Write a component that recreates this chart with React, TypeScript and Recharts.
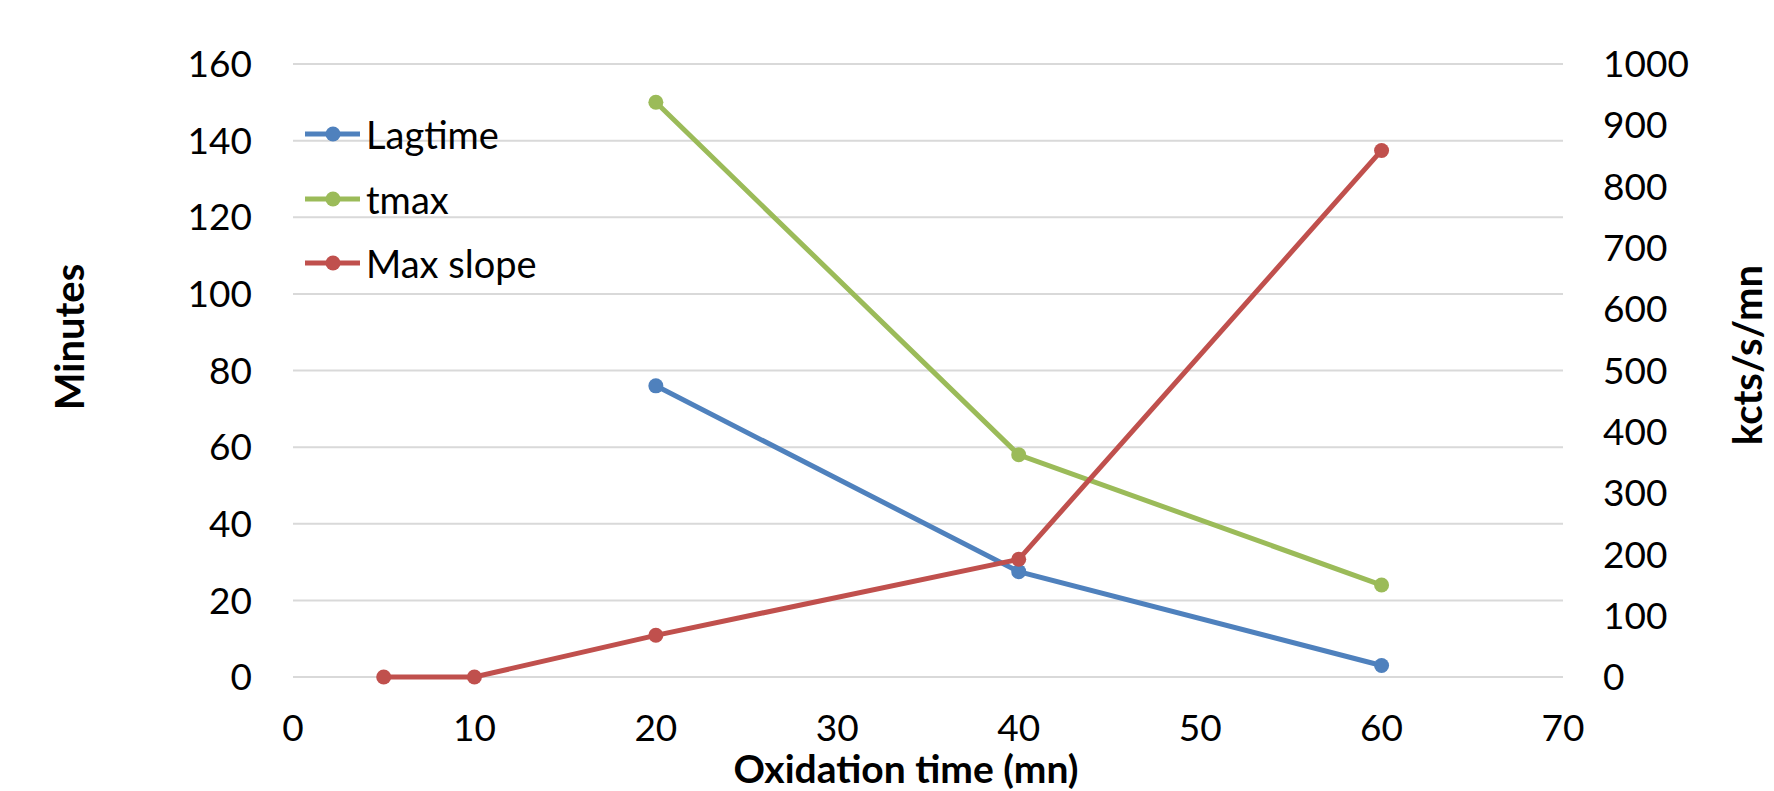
import { LineChart, Line, XAxis, YAxis, CartesianGrid } from 'recharts';

// oxidation time (mn) on the x axis
const oxidationTimes = [5, 10, 20, 40, 60];
// left axis, minutes
const lagtime = [null, null, 76, 27.5, 3];
const tmax = [null, null, 150, 58, 24];
// right axis, kcts/s/mn
const maxSlope = [0, 0, 68, 192, 859];

const xTicks = [0, 10, 20, 30, 40, 50, 60, 70];
const leftTicks = [0, 20, 40, 60, 80, 100, 120, 140, 160];
const rightTicks = [0, 100, 200, 300, 400, 500, 600, 700, 800, 900, 1000];

const data = oxidationTimes.map((t, i) => ({
  t,
  lagtime: lagtime[i],
  tmax: tmax[i],
  maxSlope: maxSlope[i],
}));

const FONT = "Lato, 'Open Sans', sans-serif";
const tickStyle = { fontSize: 37, fill: '#000', fontFamily: FONT };

const series = [
  { key: 'lagtime', name: 'Lagtime', color: '#4F81BD', axis: 'left' },
  { key: 'tmax', name: 'tmax', color: '#9BBB59', axis: 'left' },
  { key: 'maxSlope', name: 'Max slope', color: '#C0504D', axis: 'right' },
];

function LegendBox() {
  const rows = [134, 199, 263];
  return (
    <div style={{ position: 'absolute', left: 0, top: 0, pointerEvents: 'none' }}>
      {series.map((s, i) => (
        <div
          key={s.key}
          style={{ position: 'absolute', left: 305, top: rows[i] - 25, height: 50, display: 'flex', alignItems: 'center', whiteSpace: 'nowrap' }}
        >
          <svg width={56} height={20}>
            <line x1={0} y1={10} x2={55} y2={10} stroke={s.color} strokeWidth={5} />
            <circle cx={28} cy={10} r={7.5} fill={s.color} />
          </svg>
          <span style={{ fontFamily: FONT, fontSize: 38, color: '#000', marginLeft: 5 }}>{s.name}</span>
        </div>
      ))}
    </div>
  );
}

export default function App() {
  return (
    <div style={{ position: 'absolute', left: 0, top: 0, width: 1774, height: 791, background: '#fff' }}>
      <LineChart width={1774} height={791} data={data} margin={{ top: 64, right: 0, bottom: 0, left: 0 }}>
        <CartesianGrid yAxisId="left" vertical={false} stroke="#D9D9D9" strokeWidth={2} />
        <XAxis
          dataKey="t"
          type="number"
          domain={[0, 70]}
          ticks={xTicks}
          height={114}
          axisLine={false}
          tickLine={false}
          tickSize={0}
          tickMargin={38}
          tick={tickStyle}
          interval={0}
        />
        <YAxis
          yAxisId="left"
          domain={[0, 160]}
          ticks={leftTicks}
          width={293}
          axisLine={false}
          tickLine={false}
          tickSize={0}
          tickMargin={41}
          tick={tickStyle}
          interval={0}
        />
        <YAxis
          yAxisId="right"
          orientation="right"
          domain={[0, 1000]}
          ticks={rightTicks}
          width={211}
          axisLine={false}
          tickLine={false}
          tickSize={0}
          tickMargin={40}
          tick={{ ...tickStyle, textAnchor: 'start' }}
          interval={0}
        />
        {series.map((s) => (
          <Line
            key={s.key}
            yAxisId={s.axis}
            type="linear"
            dataKey={s.key}
            name={s.name}
            stroke={s.color}
            strokeWidth={5}
            dot={{ r: 7.5, fill: s.color, stroke: s.color, strokeWidth: 0 }}
            activeDot={false}
            connectNulls
            isAnimationActive={false}
          />
        ))}
      </LineChart>
      <svg width={1774} height={791} style={{ position: 'absolute', left: 0, top: 0, pointerEvents: 'none' }}>
        <text x={84} y={337} transform="rotate(-90 84 337)" textAnchor="middle" fontFamily={FONT} fontWeight={700} fontSize={40} fill="#000">
          Minutes
        </text>
        <text x={1762} y={355} transform="rotate(-90 1762 355)" textAnchor="middle" fontFamily={FONT} fontWeight={700} fontSize={40} fill="#000">
          kcts/s/mn
        </text>
        <text x={906} y={783} textAnchor="middle" fontFamily={FONT} fontWeight={700} fontSize={39} fill="#000">
          Oxidation time (mn)
        </text>
      </svg>
      <LegendBox />
    </div>
  );
}
